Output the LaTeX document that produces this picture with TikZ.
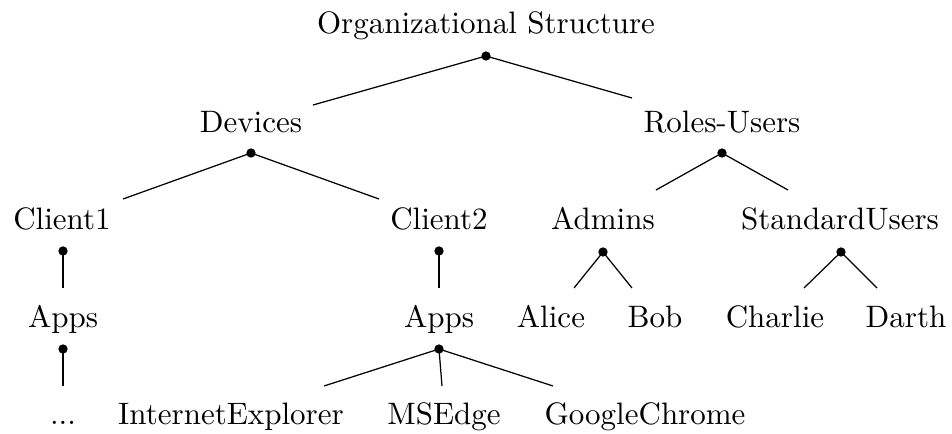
\documentclass[tikz,border=0pt]{standalone}
\usepackage{tikz}
\usetikzlibrary{positioning}
\tikzset{
  lbl/.style={anchor=base,inner sep=0pt},
  knot/.style={circle,fill,inner sep=0pt,minimum size=3pt},
}
\begin{document}
\begin{tikzpicture}[x=0.3225pt,y=-0.3225pt]
        \useasboundingbox (0,0) rectangle (952,433);
        % labels, one row per level
        \node[lbl] (org) at (486,33) {Organizational Structure};
        \node[lbl] (dev) at (251,132) {Devices};
        \node[lbl] (rol) at (722,132) {Roles-Users};
        \node[lbl] (cl1) at (62,229) {Client1};
        \node[lbl] (cl2) at (439,229) {Client2};
        \node[lbl] (adm) at (603,229) {Admins};
        \node[lbl] (std) at (840,229) {StandardUsers};
        \node[lbl] (ap1) at (63,327) {Apps};
        \node[lbl] (ap2) at (439,327) {Apps};
        \foreach \n/\x/\t in {ali/551/Alice,bob/655/Bob,cha/775/Charlie,dar/906/Darth}
          \node[lbl] (\n) at (\x,327) {\t};
        \node[lbl] (dots) at (63,424) {...};
        \foreach \n/\x/\t in {iex/231/InternetExplorer,mse/444/MSEdge,chr/645/GoogleChrome}
          \node[lbl] (\n) at (\x,424) {\t};
        % parent knots
        \node[knot] (org-k) at (486,56) {};
        \node[knot] (dev-k) at (251,153) {};
        \node[knot] (rol-k) at (722,153) {};
        \node[knot] (cl1-k) at (63,251) {};
        \node[knot] (cl2-k) at (439,251) {};
        \node[knot] (adm-k) at (603,252) {};
        \node[knot] (std-k) at (841,252) {};
        \node[knot] (ap1-k) at (63,349) {};
        \node[knot] (ap2-k) at (439,349) {};
        % edge ends above the children
        \coordinate (dev-e) at (313,105); \coordinate (rol-e) at (632,98);
        \coordinate (cl1-e) at (123,199); \coordinate (cl2-e) at (379,199);
        \coordinate (adm-e) at (656,190); \coordinate (std-e) at (788,190);
        \coordinate (ap1-e) at (63,288);  \coordinate (ap2-e) at (439,288);
        \coordinate (ali-e) at (574,288); \coordinate (bob-e) at (632,288);
        \coordinate (cha-e) at (804,288); \coordinate (dar-e) at (877,288);
        \coordinate (dots-e) at (63,386); \coordinate (iex-e) at (324,386);
        \coordinate (mse-e) at (442,386); \coordinate (chr-e) at (553,386);
        \foreach \p/\c in {org/dev,org/rol,dev/cl1,dev/cl2,rol/adm,rol/std,cl1/ap1,cl2/ap2,
            adm/ali,adm/bob,std/cha,std/dar,ap1/dots,ap2/iex,ap2/mse,ap2/chr}
          \draw (\p-k.center) -- (\c-e);
      \end{tikzpicture}
\end{document}
